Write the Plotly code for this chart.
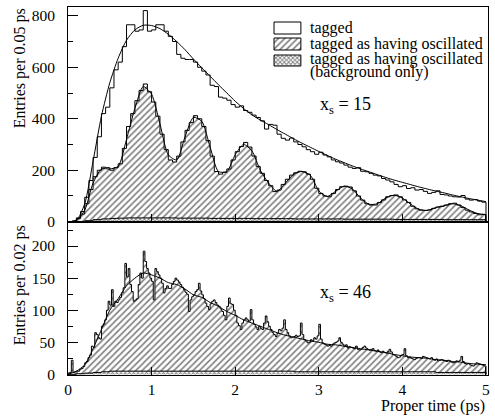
import numpy as np
import plotly.graph_objects as go

# ---------------- data ----------------
TOP_BIN = 0.05
TOP_TAGGED = [0, 2, 15, 40, 95, 160, 250, 330, 420, 445,
              520, 590, 620, 680, 765, 765, 740, 745, 820, 740,
              745, 765, 765, 740, 720, 700, 650, 635, 630, 630,
              620, 600, 585, 570, 530, 525, 484, 480, 472, 455,
              445, 450, 432, 425, 414, 405, 392, 360, 378, 375,
              340, 324, 317, 325, 310, 300, 291, 280, 272, 262,
              270, 259, 252, 240, 233, 228, 220, 212, 207, 210,
              196, 194, 188, 181, 178, 168, 162, 155, 145, 136,
              140, 129, 132, 123, 125, 118, 110, 114, 120, 106,
              104, 100, 97, 96, 102, 88, 84, 86, 80, 76]
TOP_OSC = [0, 3, 12, 30, 70, 125, 175, 200, 212, 210,
           200, 210, 225, 285, 370, 420, 470, 510, 535, 505,
           465, 410, 340, 280, 240, 232, 255, 310, 355, 385,
           412, 400, 370, 315, 255, 195, 185, 192, 205, 240,
           272, 292, 308, 290, 255, 215, 188, 160, 140, 117,
           123, 145, 165, 181, 190, 196, 194, 185, 165, 130,
           110, 100, 97, 110, 125, 136, 138, 135, 120, 100,
           84, 70, 65, 65, 75, 85, 97, 102, 104, 97,
           85, 75, 60, 50, 45, 44, 46, 52, 57, 60,
           65, 70, 72, 65, 55, 45, 38, 32, 27, 28]
BKG_BIN = 0.1
TOP_BKG = [0, 1, 4, 8, 11, 13, 14, 15, 15, 15,
           15, 15, 15, 14, 14, 14, 14, 13, 13, 13,
           13, 13, 12, 12, 12, 12, 12, 11, 11, 11,
           11, 11, 11, 10, 10, 10, 10, 10, 10, 9,
           9, 9, 9, 9, 9, 8, 8, 8, 8, 8]
FIT_STEP = 0.1
TOP_TAGGED_FIT = [0, 5, 70, 235, 410, 540, 635, 705, 745, 763,
                  762, 750, 728, 700, 668, 632, 598, 565, 532, 500,
                  468, 440, 415, 395, 377, 358, 340, 322, 305, 289,
                  273, 258, 243, 230, 217, 205, 194, 183, 172, 162,
                  153, 144, 135, 127, 119, 112, 104, 97, 90, 84, 78]
TOP_OSC_FIT = [0, 5, 45, 150, 205, 205, 215, 320, 440, 525,
               495, 380, 260, 240, 330, 405, 390, 290, 195, 195,
               260, 300, 275, 200, 150, 118, 150, 185, 195, 180,
               120, 98, 118, 138, 128, 92, 68, 70, 92, 103,
               92, 68, 48, 44, 55, 62, 70, 62, 45, 32, 28]

BOT_BIN = 0.02
BOT_OSC = [2, 3, 22, 3, 4, 5, 5, 8, 9, 12,
           18, 20, 26, 30, 44, 42, 65, 62, 57, 55,
           75, 78, 85, 100, 114, 108, 132, 106, 114, 112,
           116, 120, 127, 135, 173, 152, 165, 140, 129, 114,
           116, 118, 140, 158, 150, 192, 176, 165, 158, 150,
           145, 116, 165, 160, 155, 150, 142, 127, 134, 138,
           134, 134, 140, 145, 150, 147, 144, 140, 136, 132,
           128, 125, 98, 116, 121, 124, 129, 132, 142, 130,
           124, 118, 111, 106, 101, 110, 114, 116, 112, 108,
           106, 102, 98, 92, 85, 106, 119, 110, 109, 100,
           92, 80, 76, 70, 80, 85, 88, 85, 83, 101,
           85, 78, 74, 70, 75, 72, 70, 80, 91, 82,
           75, 70, 65, 62, 59, 64, 70, 68, 72, 85,
           70, 65, 60, 57, 58, 59, 61, 59, 60, 80,
           62, 54, 52, 49, 50, 54, 52, 57, 55, 60,
           78, 55, 49, 47, 46, 44, 45, 44, 47, 49,
           50, 52, 57, 50, 47, 44, 46, 41, 43, 42,
           41, 40, 44, 39, 38, 39, 42, 44, 41, 39,
           38, 39, 40, 37, 36, 38, 35, 34, 36, 34,
           33, 36, 39, 35, 31, 30, 28, 26, 27, 30,
           31, 40, 29, 26, 27, 25, 24, 23, 25, 26,
           26, 25, 28, 27, 26, 25, 24, 26, 23, 22,
           24, 21, 22, 23, 22, 21, 20, 22, 21, 19,
           18, 19, 21, 20, 22, 28, 20, 17, 16, 17,
           15, 14, 13, 15, 18, 17, 16, 15, 14, 13]
BOT_BKG = [0, 1, 2, 3, 4, 5, 5, 5, 5, 5,
           5, 5, 5, 5, 5, 5, 5, 5, 5, 5,
           5, 5, 5, 5, 5, 5, 5, 4, 4, 4,
           4, 4, 4, 4, 4, 4, 4, 4, 4, 4,
           4, 4, 4, 4, 3, 3, 3, 3, 3, 3]
BOT_FIT = [0, 5, 15, 40, 70, 100, 118, 138, 150, 158,
           155, 150, 143, 140, 133, 124, 120, 112, 106, 98,
           92, 85, 80, 75, 70, 65, 61, 58, 55, 52,
           50, 47, 46, 44, 42, 40, 38, 36, 34, 31,
           29, 27, 26, 25, 23, 22, 20, 19, 17, 16, 15]

LEGEND_LABELS = ["tagged", "tagged as having oscillated",
                 "tagged as having oscillated", "(background only)"]
TOP_TEXT = "x<sub>s</sub> = 15"
BOT_TEXT = "x<sub>s</sub> = 46"
X_TITLE = "Proper time (ps)"
TOP_Y_TITLE = "Entries per 0.05 ps"
BOT_Y_TITLE = "Entries per 0.02 ps"

# ---------------- helpers ----------------
FONT = "Liberation Serif"
HATCH = dict(shape="/", size=4.5, solidity=0.36, fgcolor="black", bgcolor="white")
CROSS = dict(shape="x", size=3, solidity=0.5, fgcolor="black", bgcolor="white")


def step(values, width):
    edges = np.arange(len(values) + 1) * width
    x = [0.0] + [float(e) for e in edges] + [float(edges[-1])]
    y = [0.0] + [float(v) for v in values] + [float(values[-1]), 0.0]
    return x, y


def hist(values, width, xa, ya, pattern=None):
    x, y = step(values, width)
    kw = dict(x=x, y=y, mode="lines", xaxis=xa, yaxis=ya, showlegend=False,
              hoverinfo="skip", line=dict(shape="hv", color="black", width=1))
    if pattern is not None:
        kw.update(fill="tozeroy", fillpattern=pattern, fillcolor="white")
    return go.Scatter(**kw)


def curve(values, xa, ya):
    x = [round(i * FIT_STEP, 3) for i in range(len(values))]
    return go.Scatter(x=x, y=values, mode="lines", xaxis=xa, yaxis=ya,
                      showlegend=False, hoverinfo="skip",
                      line=dict(shape="spline", smoothing=0.7, color="black", width=1))


fig = go.Figure()
fig.add_trace(hist(TOP_TAGGED, TOP_BIN, "x", "y"))
fig.add_trace(hist(TOP_OSC, TOP_BIN, "x", "y", HATCH))
fig.add_trace(hist(TOP_BKG, BKG_BIN, "x", "y", CROSS))
fig.add_trace(curve(TOP_TAGGED_FIT, "x", "y"))
fig.add_trace(curve(TOP_OSC_FIT, "x", "y"))
fig.add_trace(hist(BOT_OSC, BOT_BIN, "x2", "y2", HATCH))
fig.add_trace(hist(BOT_BKG, BKG_BIN, "x2", "y2", CROSS))
fig.add_trace(curve(BOT_FIT, "x2", "y2"))

# legend boxes on a pixel-like overlay axis
BOX_L, BOX_R = 275, 302
ROWS = [(22, 34, None), (38, 50, HATCH), (55, 66, CROSS)]
for top, bot, pat in ROWS:
    kw = dict(x=[BOX_L, BOX_R, BOX_R, BOX_L, BOX_L], y=[top, top, bot, bot, top],
              mode="lines", xaxis="x3", yaxis="y3", showlegend=False, hoverinfo="skip",
              line=dict(color="black", width=1))
    if pat is not None:
        kw.update(fill="toself", fillpattern=pat, fillcolor="white")
    fig.add_trace(go.Scatter(**kw))

TEXT_Y = [28, 44, 59, 72]
ann = []
for lab, ty in zip(LEGEND_LABELS, TEXT_Y):
    ann.append(dict(x=309, y=ty, xref="x3", yref="y3", text=lab, showarrow=False,
                    xanchor="left", yanchor="middle", font=dict(size=16)))
ann.append(dict(x=347, y=105, xref="x3", yref="y3", text=TOP_TEXT, showarrow=False,
                xanchor="center", yanchor="middle", font=dict(size=18)))
ann.append(dict(x=347, y=293, xref="x3", yref="y3", text=BOT_TEXT, showarrow=False,
                xanchor="center", yanchor="middle", font=dict(size=18)))

PH = 368.0   # plot-area height in px
PW = 422.0   # plot-area width in px
ann.append(dict(x=(489 - 68) / PW, y=(375 - 406) / PH, xref="paper", yref="paper",
                text=X_TITLE, showarrow=False, xanchor="right", yanchor="middle",
                font=dict(size=16)))
ann.append(dict(x=(20 - 68) / PW, y=(375 - 68) / PH, xref="paper", yref="paper",
                text=TOP_Y_TITLE, showarrow=False, textangle=-90,
                xanchor="center", yanchor="middle", font=dict(size=16)))
ann.append(dict(x=(20 - 68) / PW, y=(375 - 285) / PH, xref="paper", yref="paper",
                text=BOT_Y_TITLE, showarrow=False, textangle=-90,
                xanchor="center", yanchor="middle", font=dict(size=16)))

SPLIT = 153 / PH
common_x = dict(range=[0, 5.024], showgrid=False, zeroline=False, showline=True,
                mirror=True, linecolor="black", linewidth=1, ticks="inside",
                ticklen=8, tickcolor="black", tickmode="array", tickvals=[0, 1, 2, 3, 4, 5])
common_y = dict(showgrid=False, zeroline=False, showline=True, mirror=True,
                linecolor="black", linewidth=1, ticks="inside", ticklen=10,
                tickcolor="black", tickmode="array", ticklabelstandoff=9)

fig.update_layout(
    width=495, height=417,
    margin=dict(l=68, r=5, t=7, b=42),
    paper_bgcolor="white", plot_bgcolor="rgba(0,0,0,0)",
    font=dict(family=FONT, size=15.5, color="black"),
    annotations=ann,
    xaxis=dict(domain=[0, 1], anchor="y", showticklabels=False, **common_x),
    yaxis=dict(domain=[SPLIT, 1], anchor="x", range=[-1, 834],
               tickvals=[0, 200, 400, 600, 800],
               minor=dict(dtick=100, tick0=0, ticks="inside", ticklen=5,
                          tickcolor="black", showgrid=False), **common_y),
    xaxis2=dict(domain=[0, 1], anchor="y2", **common_x),
    yaxis2=dict(domain=[0, SPLIT], anchor="x2", range=[-1, 237.5],
                tickvals=[0, 50, 100, 150, 200],
                minor=dict(dtick=25, tick0=0, ticks="inside", ticklen=5,
                           tickcolor="black", showgrid=False), **common_y),
    xaxis3=dict(domain=[0, 1], anchor="y3", range=[68, 490], visible=False),
    yaxis3=dict(domain=[0, 1], anchor="x3", range=[375, 7], visible=False),
)

fig.write_html("out.html")
